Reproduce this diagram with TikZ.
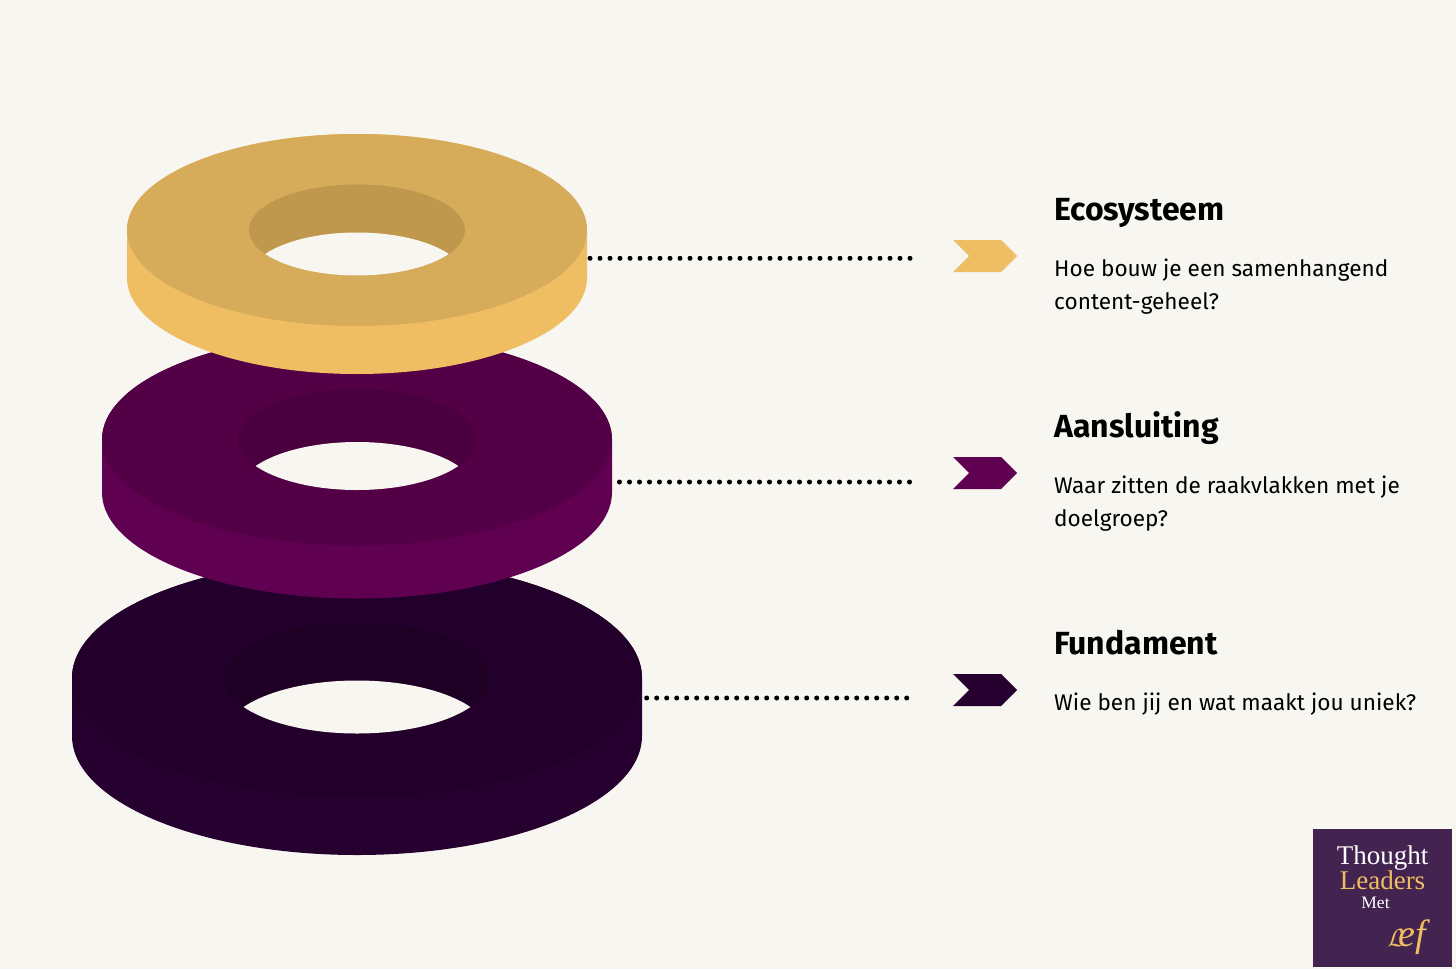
\documentclass[tikz,border=0pt]{standalone}
\usepackage{fontspec}
\setmainfont{Fira Sans}
\newfontfamily\logofont{Liberation Serif}
\usetikzlibrary{shapes.symbols}

\definecolor{paper}{HTML}{F7F6F1}
\definecolor{logobg}{HTML}{43234F}
\definecolor{gold}{HTML}{F0BE62}
\definecolor{goldtop}{HTML}{D6AC5A}
\definecolor{goldin}{HTML}{BF984D}
\definecolor{plum}{HTML}{600050}
\definecolor{plumtop}{HTML}{540047}
\definecolor{plumin}{HTML}{4A003E}
\definecolor{night}{HTML}{26002E}
\definecolor{nighttop}{HTML}{23002B}
\definecolor{nightin}{HTML}{1E0025}

\tikzset{
	chev/.style={signal, signal to=east, signal from=west, signal pointer angle=90,
		minimum width=64pt, minimum height=32pt, inner sep=0pt, outer sep=0pt},
	dotline/.style={line width=5pt, line cap=round, dash pattern=on 0pt off 10pt},
	head/.style={anchor=base west, inner sep=0pt, font=\fontsize{32}{32}\selectfont\bfseries},
	body/.style={anchor=base west, inner sep=0pt, font=\fontsize{22.6}{22.6}\selectfont},
	logotxt/.style={inner sep=0pt, anchor=base, font=\logofont\fontsize{27}{27}\selectfont}
}

% center y, rx, ry, height, hole rx, hole ry, colours
\newcommand{\ring}[9]{
	\fill[#8] (357pt-#2pt,#1) arc[start angle=180, end angle=0, x radius=#2pt, y radius=#3pt]
		-- ++(0,#4) arc[start angle=0, end angle=-180, x radius=#2pt, y radius=#3pt] -- cycle;
	\fill[#7] (357,#1) ellipse[x radius=#2pt, y radius=#3pt];
	\fill[#9] (357,#1) ellipse[x radius=#5pt, y radius=#6pt];
	\begin{scope}
		\clip (357,#1) ellipse[x radius=#5pt, y radius=#6pt];
		\fill[paper] (357,#1+#4) ellipse[x radius=#5pt, y radius=#6pt];
	\end{scope}
}

\begin{document}
\begin{tikzpicture}[x=1pt,y=-1pt]
	\useasboundingbox (0,0) rectangle (1456,969);
	\fill[paper] (0,0) rectangle (1456,969);

	% connector ends
	\coordinate (ecoA) at (580,258.3);
	\coordinate (ecoB) at (920,258.3);
	\coordinate (aanA) at (609.5,482);
	\coordinate (aanB) at (919.5,482);
	\coordinate (funA) at (646.7,698);
	\coordinate (funB) at (916.7,698);

	\draw[dotline] (ecoA) -- (ecoB);
	\draw[dotline] (aanA) -- (aanB);
	\draw[dotline] (funA) -- (funB);

	% rings
	\ring{678}{285}{119}{58}{133}{55.5}{nighttop}{night}{nightin}
	\ring{439.5}{255}{106}{53}{119}{50.5}{plumtop}{plum}{plumin}
	\ring{230}{230}{96}{48}{108}{45.5}{goldtop}{gold}{goldin}

	\node[chev,fill=gold] (ecoChev) at (985,256) {};
	\node[chev,fill=plum] (aanChev) at (985,473) {};
	\node[chev,fill=night] (funChev) at (985,690) {};

	% texts
	\node[head] (ecoHead) at (1054,220.5) {Ecosysteem};
	\node[body] (ecoOne) at (1054,276) {Hoe bouw je een samenhangend};
	\node[body] (ecoTwo) at (1054,309) {content-geheel?};

	\node[head] (aanHead) at (1054,437.5) {Aansluiting};
	\node[body] (aanOne) at (1054,493) {Waar zitten de raakvlakken met je};
	\node[body] (aanTwo) at (1054,526) {doelgroep?};

	\node[head] (funHead) at (1054,654.5) {Fundament};
	\node[body] (funOne) at (1054,710) {Wie ben jij en wat maakt jou uniek?};

	% logo
	\fill[logobg] (1313,829) rectangle (1452,967);
	\node[logotxt,text=white] (logoA) at (1382.5,864) {Thought};
	\node[logotxt,text=gold] (logoB) at (1382.5,889) {Leaders};
	\node[logotxt,text=white,font=\logofont\fontsize{17.5}{17.5}\selectfont] (logoC) at (1375.5,908) {Met};
	\node[logotxt,text=gold,font=\logofont\itshape\fontsize{38}{38}\selectfont] (logoD) at (1407,946) {{\fontsize{62}{62}\selectfont$\mathcal{L}$}\kern-6pt ef};
\end{tikzpicture}
\end{document}
